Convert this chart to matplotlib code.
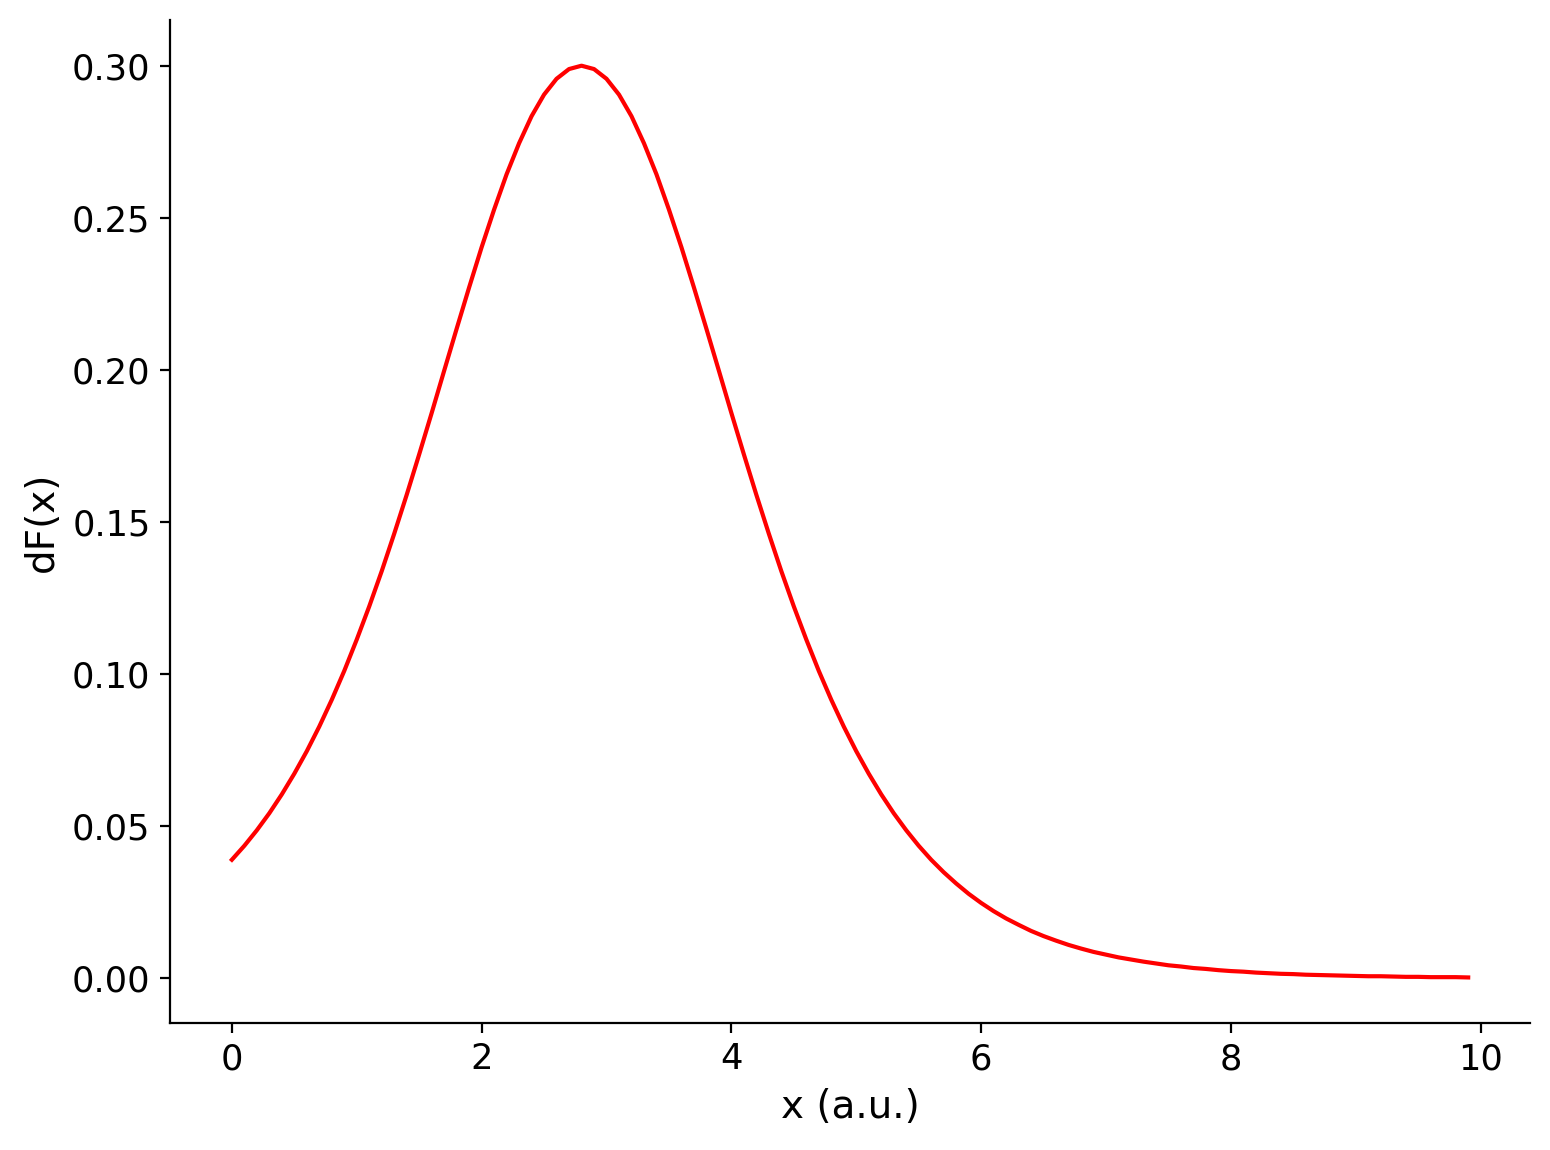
import numpy as np
import matplotlib
matplotlib.use("Agg")
import matplotlib.pyplot as plt

# x grid, step 0.1 from 0 to 9.9
x_values = np.round(np.arange(0, 10, 0.1), 1)

# dF(x)
df_values = [
    0.0389, 0.0435, 0.0486, 0.0542, 0.0604, 0.0672, 0.0746, 0.0827, 0.0915, 0.1010,
    0.1113, 0.1222, 0.1338, 0.1461, 0.1589, 0.1722, 0.1858, 0.1997, 0.2135, 0.2271,
    0.2403, 0.2527, 0.2643, 0.2745, 0.2834, 0.2905, 0.2957, 0.2989, 0.3000, 0.2989,
    0.2957, 0.2905, 0.2834, 0.2745, 0.2643, 0.2527, 0.2403, 0.2271, 0.2135, 0.1997,
    0.1858, 0.1722, 0.1589, 0.1461, 0.1338, 0.1222, 0.1113, 0.1010, 0.0915, 0.0827,
    0.0746, 0.0672, 0.0604, 0.0542, 0.0486, 0.0435, 0.0389, 0.0348, 0.0311, 0.0277,
    0.0247, 0.0220, 0.0196, 0.0175, 0.0155, 0.0138, 0.0123, 0.0109, 0.0097, 0.0086,
    0.0077, 0.0068, 0.0061, 0.0054, 0.0048, 0.0042, 0.0038, 0.0033, 0.0030, 0.0026,
    0.0023, 0.0021, 0.0018, 0.0016, 0.0014, 0.0013, 0.0011, 0.0010, 0.0009, 0.0008,
    0.0007, 0.0006, 0.0006, 0.0005, 0.0004, 0.0004, 0.0003, 0.0003, 0.0003, 0.0002,
]


def main():
    fig, ax = plt.subplots(figsize=(7.75, 5.75), dpi=200)
    fig.subplots_adjust(left=0.1097, right=0.9871, bottom=0.1104, top=0.9825)

    ax.plot(x_values, df_values, color="red", linewidth=1.5)

    ax.set_xlabel("x (a.u.)", fontsize=14)
    ax.set_ylabel("dF(x)", fontsize=14)
    ax.tick_params(labelsize=12.7)
    ax.spines["top"].set_visible(False)
    ax.spines["right"].set_visible(False)

    fig.savefig("out.png", dpi=200)


if __name__ == "__main__":
    main()
